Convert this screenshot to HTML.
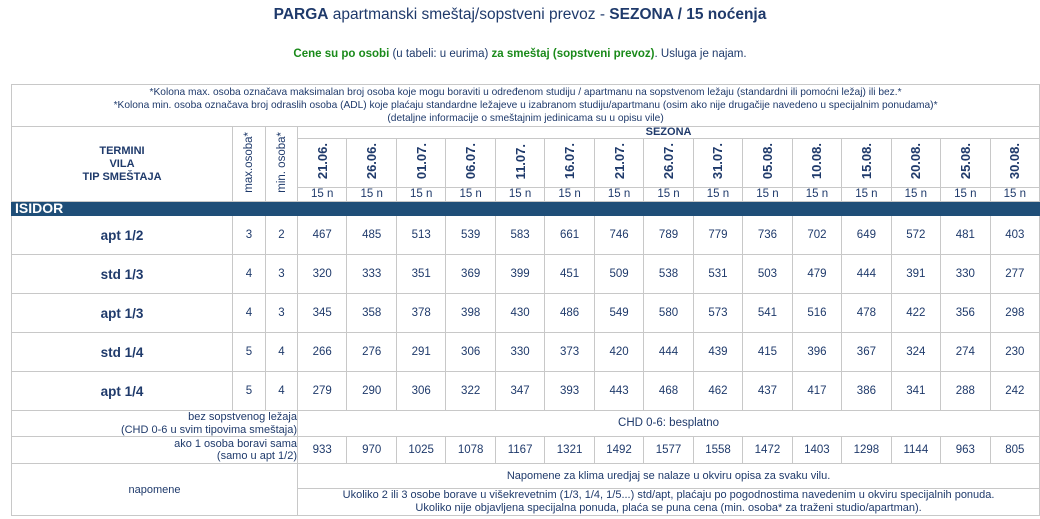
<!DOCTYPE html>
<html><head><meta charset="utf-8">
<style>
body{margin:0;width:1040px;height:519px;background:#fff;font-family:"Liberation Sans","DejaVu Sans",sans-serif;color:#1f3a6b;position:relative;overflow:hidden}
.t{position:absolute;left:0;width:1040px;text-align:center;white-space:nowrap}
table{position:absolute;left:11px;top:84px;border-collapse:collapse;table-layout:fixed;width:1028px;font-size:11.5px}
td{border:1px solid #c8c8c8;text-align:center;padding:0;overflow:hidden;white-space:nowrap}
.v{writing-mode:vertical-rl;transform:rotate(180deg);display:inline-block}
.d{font-weight:bold;font-size:13px}
.bar td{background:#1f4e78;color:#fff;font-weight:bold;font-size:14px;text-align:left;padding-left:3px;border-color:#1f4e78}
.n{font-weight:bold;font-size:13.5px}
.r td{height:38px}
</style></head><body>
<div class="t" style="top:6px;font-size:15.5px"><b>PARGA</b> apartmanski smeštaj/sopstveni prevoz - <b>SEZONA / 15 noćenja</b></div>
<div class="t" style="top:48px;font-size:11.5px;color:#1f3a6b"><b style="color:#1a8a1a">Cene su po osobi</b> (u tabeli: u eurima) <b style="color:#1a8a1a">za smeštaj (sopstveni prevoz)</b>. Usluga je najam.</div>
<table>
<colgroup><col style="width:221px"><col style="width:33px"><col style="width:32px">
<col span="15" style="width:49.47px"></colgroup>
<tr><td colspan="18" style="height:41px;line-height:13px;font-size:10.2px">*Kolona max. osoba označava maksimalan broj osoba koje mogu boraviti u određenom studiju / apartmanu na sopstvenom ležaju (standardni ili pomoćni ležaj) ili bez.*<br>*Kolona min. osoba označava broj odraslih osoba (ADL) koje plaćaju standardne ležajeve u izabranom studiju/apartmanu (osim ako nije drugačije navedeno u specijalnim ponudama)*<br>(detaljne informacije o smeštajnim jedinicama su u opisu vile)</td></tr>
<tr><td rowspan="3" style="font-weight:bold;line-height:13px;font-size:11px">TERMINI<br>VILA<br>TIP SMEŠTAJA</td>
<td rowspan="3"><span class="v">max.osoba*</span></td><td rowspan="3"><span class="v">min. osoba*</span></td>
<td colspan="15" style="height:11px;font-weight:bold;font-size:11px;line-height:11px">SEZONA</td></tr>
<tr style="height:49px"><td><span class="v d">21.06.</span></td><td><span class="v d">26.06.</span></td><td><span class="v d">01.07.</span></td><td><span class="v d">06.07.</span></td><td><span class="v d">11.07.</span></td><td><span class="v d">16.07.</span></td><td><span class="v d">21.07.</span></td><td><span class="v d">26.07.</span></td><td><span class="v d">31.07.</span></td><td><span class="v d">05.08.</span></td><td><span class="v d">10.08.</span></td><td><span class="v d">15.08.</span></td><td><span class="v d">20.08.</span></td><td><span class="v d">25.08.</span></td><td><span class="v d">30.08.</span></td></tr>
<tr style="height:14px;line-height:13px"><td>15 n</td><td>15 n</td><td>15 n</td><td>15 n</td><td>15 n</td><td>15 n</td><td>15 n</td><td>15 n</td><td>15 n</td><td>15 n</td><td>15 n</td><td>15 n</td><td>15 n</td><td>15 n</td><td>15 n</td></tr>
<tr class="bar" style="height:14px;line-height:13px"><td colspan="18">ISIDOR</td></tr>
<tr class="r"><td class="n">apt 1/2</td><td>3</td><td>2</td><td>467</td><td>485</td><td>513</td><td>539</td><td>583</td><td>661</td><td>746</td><td>789</td><td>779</td><td>736</td><td>702</td><td>649</td><td>572</td><td>481</td><td>403</td></tr>
<tr class="r"><td class="n">std 1/3</td><td>4</td><td>3</td><td>320</td><td>333</td><td>351</td><td>369</td><td>399</td><td>451</td><td>509</td><td>538</td><td>531</td><td>503</td><td>479</td><td>444</td><td>391</td><td>330</td><td>277</td></tr>
<tr class="r"><td class="n">apt 1/3</td><td>4</td><td>3</td><td>345</td><td>358</td><td>378</td><td>398</td><td>430</td><td>486</td><td>549</td><td>580</td><td>573</td><td>541</td><td>516</td><td>478</td><td>422</td><td>356</td><td>298</td></tr>
<tr class="r"><td class="n">std 1/4</td><td>5</td><td>4</td><td>266</td><td>276</td><td>291</td><td>306</td><td>330</td><td>373</td><td>420</td><td>444</td><td>439</td><td>415</td><td>396</td><td>367</td><td>324</td><td>274</td><td>230</td></tr>
<tr class="r"><td class="n">apt 1/4</td><td>5</td><td>4</td><td>279</td><td>290</td><td>306</td><td>322</td><td>347</td><td>393</td><td>443</td><td>468</td><td>462</td><td>437</td><td>417</td><td>386</td><td>341</td><td>288</td><td>242</td></tr>
<tr style="height:26px;line-height:12.5px"><td colspan="3" style="text-align:right;font-size:11px">bez sopstvenog ležaja<br>(CHD 0-6 u svim tipovima smeštaja)</td><td colspan="15">CHD 0-6: besplatno</td></tr>
<tr style="height:27px;line-height:12.5px"><td colspan="3" style="text-align:right;font-size:11px">ako 1 osoba boravi sama<br>(samo u apt 1/2)</td><td>933</td><td>970</td><td>1025</td><td>1078</td><td>1167</td><td>1321</td><td>1492</td><td>1577</td><td>1558</td><td>1472</td><td>1403</td><td>1298</td><td>1144</td><td>963</td><td>805</td></tr>
<tr style="height:25px"><td colspan="3" rowspan="2" style="font-size:11px">napomene</td><td colspan="15" style="font-size:11px">Napomene za klima uredjaj se nalaze u okviru opisa za svaku vilu.</td></tr>
<tr style="height:27px;line-height:13px"><td colspan="15" style="font-size:11px">Ukoliko 2 ili 3 osobe borave u višekrevetnim (1/3, 1/4, 1/5...) std/apt, plaćaju po pogodnostima navedenim u okviru specijalnih ponuda.<br>Ukoliko nije objavljena specijalna ponuda, plaća se puna cena (min. osoba* za traženi studio/apartman).</td></tr>
</table>
</body></html>
